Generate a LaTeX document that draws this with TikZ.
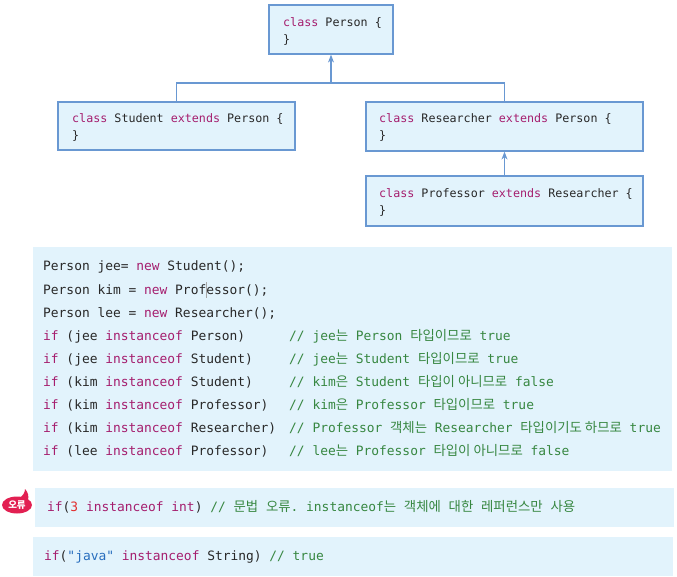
\documentclass[tikz,border=0pt]{standalone}
\usepackage{fontspec}
\setmonofont{DejaVu Sans Mono}
\newfontfamily\kofont{Noto Sans CJK KR}
\usetikzlibrary{arrows.meta}
\definecolor{kwc}{RGB}{165,30,110}
\definecolor{cmc}{RGB}{55,135,65}
\definecolor{txtc}{RGB}{40,40,40}
\definecolor{numc}{RGB}{225,45,45}
\definecolor{strc}{RGB}{40,110,190}
\definecolor{boxfill}{RGB}{226,243,252}
\definecolor{boxline}{RGB}{105,152,210}
\definecolor{badgec}{RGB}{226,32,82}
\newcommand\kw[1]{\textcolor{kwc}{#1}}
\newcommand\cmt[1]{\textcolor{cmc}{#1}}
\newcommand\ko[1]{{\kofont\fontsize{13.4}{17}\selectfont #1}}
\tikzset{
  cbox/.style={draw=boxline, fill=boxfill, line width=1.2pt, inner sep=0pt},
  ctext/.style={anchor=base west, inner sep=0pt, text=txtc, font=\ttfamily\fontsize{11.7}{17}\selectfont},
  code/.style={anchor=base west, inner sep=0pt, text=txtc, font=\ttfamily\fontsize{12.9}{17}\selectfont},
  cmtn/.style={code, text=cmc},
  bg/.style={fill=boxfill, draw=none, inner sep=0pt, anchor=north west},
  conn/.style={draw=boxline, line width=1.2pt},
  arr/.style={conn, -{Stealth[length=8pt,width=6pt]}},
}
\begin{document}
\begin{tikzpicture}[x=1pt,y=-1pt]
\useasboundingbox (0,0) rectangle (677,577);
% class boxes
\node[cbox, minimum width=124pt, minimum height=49pt] (person) at (331,29.5) {};
\node[cbox, minimum width=237pt, minimum height=48pt] (student) at (176.5,126) {};
\node[cbox, minimum width=277pt, minimum height=49pt] (researcher) at (504.5,126.5) {};
\node[cbox, minimum width=277pt, minimum height=50pt] (professor) at (504.5,201) {};
\node[ctext] (pt1) at (283,26.3) {\kw{class} Person \{};
\node[ctext] (pt2) at (283,43.3) {\}};
\node[ctext] (st1) at (72,122.3) {\kw{class} Student \kw{extends} Person \{};
\node[ctext] (st2) at (72,139.3) {\}};
\node[ctext] (rt1) at (379,122.3) {\kw{class} Researcher \kw{extends} Person \{};
\node[ctext] (rt2) at (379,139.3) {\}};
\node[ctext] (ft1) at (379,197.3) {\kw{class} Professor \kw{extends} Researcher \{};
\node[ctext] (ft2) at (379,214.3) {\}};
% connectors
\coordinate (j) at (331,83);
\draw[conn] (student.north) |- (j) -| (researcher.north);
\draw[arr] (j) -- (person.south);
\draw[arr] (professor.north) -- (researcher.south);
% code block
\node[bg, minimum width=639pt, minimum height=224pt] (codebg) at (33,247) {};
\node[code] (c1) at (43,271) {Person jee= \kw{new} Student();};
\node[code] (c2) at (43,294.1) {Person kim = \kw{new} Professor();};
\node[code] (c3) at (43,317.2) {Person lee = \kw{new} Researcher();};
\node[code] (c4) at (43,340.3) {\kw{if} (jee \kw{instanceof} Person)};
\node[code] (c5) at (43,363.4) {\kw{if} (jee \kw{instanceof} Student)};
\node[code] (c6) at (43,386.5) {\kw{if} (kim \kw{instanceof} Student)};
\node[code] (c7) at (43,409.6) {\kw{if} (kim \kw{instanceof} Professor)};
\node[code] (c8) at (43,432.7) {\kw{if} (kim \kw{instanceof} Researcher)};
\node[code] (c9) at (43,455.8) {\kw{if} (lee \kw{instanceof} Professor)};
\node[cmtn] (m4) at (289,340.3) {// jee\ko{는} Person \ko{타입이므로} true};
\node[cmtn] (m5) at (289,363.4) {// jee\ko{는} Student \ko{타입이므로} true};
\node[cmtn] (m6) at (289,386.5) {// kim\ko{은} Student \ko{타입이 아니므로} false};
\node[cmtn] (m7) at (289,409.6) {// kim\ko{은} Professor \ko{타입이므로} true};
\node[cmtn] (m8) at (289,432.7) {// Professor \ko{객체는} Researcher \ko{타입이기도 하므로} true};
\node[cmtn] (m9) at (289,455.8) {// lee\ko{는} Professor \ko{타입이 아니므로} false};
\draw[gray!70, line width=0.6pt] (206.5,282) -- (206.5,298);
% error line
\node[bg, minimum width=639pt, minimum height=39pt] (errbg) at (35,488) {};
\node[code] (e1) at (47,511.5) {\kw{if}(\textcolor{numc}{3} \kw{instanceof} \kw{int}) \cmt{// \ko{문법} \ko{오류}. instanceof\ko{는} \ko{객체에} \ko{대한} \ko{레퍼런스만} \ko{사용}}};
% badge
\fill[badgec] (17,505) ellipse [x radius=15pt, y radius=8.5pt];
\fill[badgec] (19,499) .. controls (23,495) and (25,493) .. (25,489) .. controls (28,492) and (29,496) .. (28,500) -- cycle;
\node[inner sep=0pt, text=white, font=\kofont\bfseries\fontsize{9.5}{10}\selectfont] (badge) at (17,505.5) {오류};
% string line
\node[bg, minimum width=640pt, minimum height=39pt] (strbg) at (33,537) {};
\node[code] (s1) at (44,560.5) {\kw{if}(\textcolor{strc}{"java"} \kw{instanceof} String) \cmt{// true}};
\end{tikzpicture}
\end{document}
